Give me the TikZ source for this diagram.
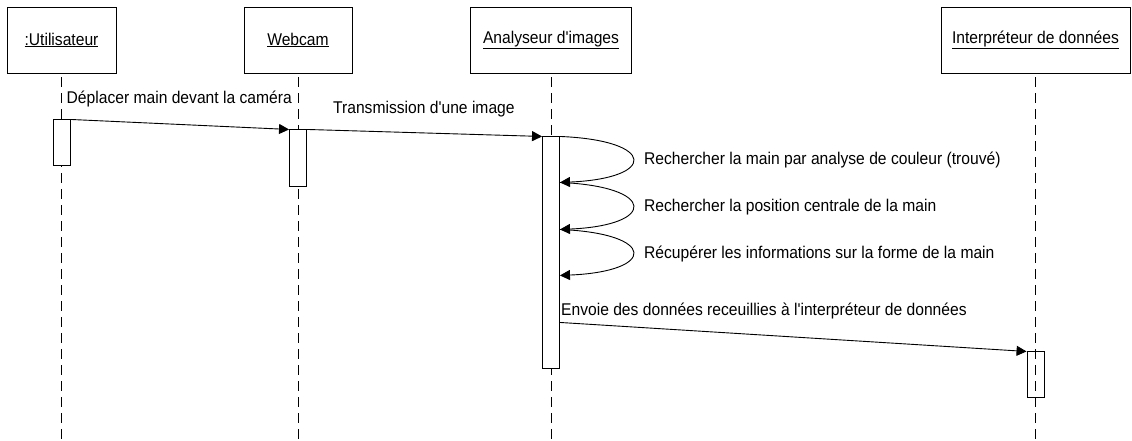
\documentclass[tikz,border=0pt]{standalone}
\usepackage{fontspec}
\setmainfont{Liberation Sans}[Ligatures=TeXOff, FakeStretch=0.92]
\usetikzlibrary{positioning}
\usetikzlibrary{calc}
\usetikzlibrary{arrows.meta}

\begin{document}
\begin{tikzpicture}[x=1pt, y=-1pt, font=\fontsize{17}{19}\selectfont,
    OBJ/.style={rectangle, draw=black, fill=white, line width=0.9pt, minimum width=109pt, minimum height=66pt, align=center},
    ACT/.style={rectangle, draw=black, fill=white, line width=0.9pt, minimum width=17pt, inner sep=0pt},
    LIFE/.style={dash pattern=on 10pt off 6pt, line width=0.9pt},
    MSG/.style={-{Triangle[length=10pt, width=10pt]}, line width=0.9pt},
    LBL/.style={inner sep=0pt, anchor=base west}]
        \useasboundingbox (0,0) rectangle (1132,440);

        \node[OBJ] (user) at (61.5,40) {\underline{:Utilisateur}};
        \node[OBJ, minimum width=108pt] (cam) at (298,40) {\underline{Webcam}};
        \node[OBJ, minimum width=161pt] (ana) at (551,40) {\underline{Analyseur d'images}};
        \node[OBJ, minimum width=189pt] (itp) at (1035.5,40) {\underline{Interpréteur de données}};

        \coordinate (end) at (0,440);
        \draw[LIFE] ([yshift=-4pt] user.south) -- (user.south |- end);
        \draw[LIFE] ([yshift=-4pt] cam.south) -- (cam.south |- end);
        \draw[LIFE] ([yshift=-4pt] ana.south) -- (ana.south |- end);
        \draw[LIFE] ([yshift=-4pt] itp.south) -- (itp.south |- end);

        \node[ACT, minimum height=46pt, below = 46pt of user] (userA) {};
        \node[ACT, minimum height=57pt, below = 56pt of cam] (camA) {};
        \node[ACT, minimum height=232pt, below = 63pt of ana] (anaA) {};
        \node[ACT, minimum height=46pt, fill=none, below = 278pt of itp] (itpA) {};

        \draw[MSG] (userA.north east) -- (camA.north west);
        \node[LBL] (m1) at ([xshift=-4pt, yshift=16pt] userA.north east) {Déplacer main devant la caméra};

        \draw[MSG] (camA.north east) -- (anaA.north west);
        \node[LBL] (m2) at ([xshift=26pt, yshift=16pt] camA.north east) {Transmission d'une image};

        \coordinate (s0) at (anaA.north east);
        \coordinate[below = 46pt of s0] (s1);
        \coordinate[below = 47pt of s1] (s2);
        \coordinate[below = 46pt of s2] (s3);
        \coordinate[below = 47pt of s3] (s4);

        \coordinate[below right = 4pt and 97pt of s0] (E1);
        \coordinate[above right = 4pt and 97pt of s1] (E2);
        \draw[MSG] (s0) .. controls (E1) and (E2) .. (s1);
        \node[LBL] (r1) at ([xshift=84pt, yshift=-28pt] s0) {Rechercher la main par analyse de couleur (trouvé)};

        \coordinate[below right = 4pt and 97pt of s1] (E3);
        \coordinate[above right = 4pt and 97pt of s2] (E4);
        \draw[MSG] (s1) .. controls (E3) and (E4) .. (s2);
        \node[LBL] (r2) at ([xshift=84pt, yshift=-29pt] s1) {Rechercher la position centrale de la main};

        \coordinate[below right = 4pt and 97pt of s2] (E5);
        \coordinate[above right = 4pt and 97pt of s3] (E6);
        \draw[MSG] (s2) .. controls (E5) and (E6) .. (s3);
        \node[LBL] (r3) at ([xshift=84pt, yshift=-29pt] s2) {Récupérer les informations sur la forme de la main};

        \draw[MSG] (s4) -- (itpA.north west);
        \node[LBL] (m4) at ([xshift=1pt, yshift=7pt] s4) {Envoie des données receuillies à l'interpréteur de données};
    \end{tikzpicture}
\end{document}
